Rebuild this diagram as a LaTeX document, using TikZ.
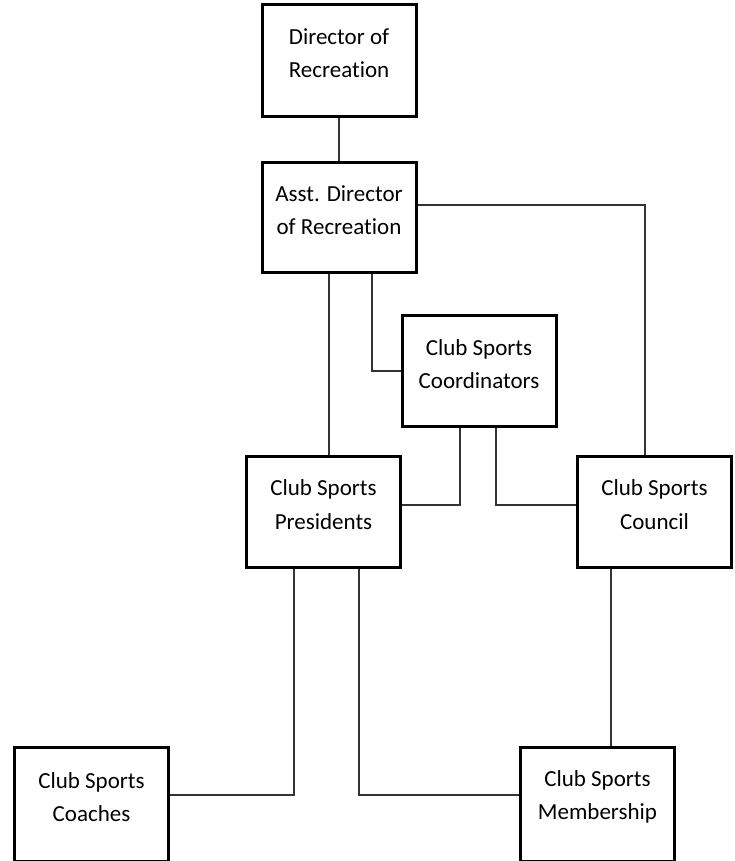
\documentclass[tikz,border=0pt]{standalone}
\usepackage{fontspec}
\setmainfont{Carlito}[Ligatures=NoCommon]
\begin{document}
\begin{tikzpicture}[x=1pt,y=-1pt,
  box/.style={draw=black,line width=3pt,fill=white,inner sep=0pt,minimum width=154pt,minimum height=111pt},
  lbl/.style={align=center,inner sep=0pt,font=\fontsize{23}{33.5}\selectfont,text=black},
  conn/.style={draw=black!80,line width=1.1pt}]
\useasboundingbox (0,0) rectangle (734,861);
\clip (0,0) rectangle (734,861);
% helper coordinates
\coordinate (y205) at (0,205);
\coordinate (y505) at (0,505);
\coordinate (y795) at (0,795);
\coordinate (x329) at (329,0);
\coordinate (x372) at (372,0);
\coordinate (x460) at (460,0);
\coordinate (x496) at (496,0);
\coordinate (x645) at (645,0);
\coordinate (x294) at (294,0);
\coordinate (x359) at (359,0);
\coordinate (x611) at (611,0);
% boxes
\node[box,minimum height=112pt] (dir) at (339,60.5) {};
\node[box,minimum height=110pt] (asst) at (339,217.5) {};
\node[box] (coord) at (479,371) {};
\node[box] (pres) at (323.5,512) {};
\node[box] (council) at (654.5,512) {};
\node[box,minimum height=114pt] (coach) at (91.5,804) {};
\node[box,minimum height=114pt] (memb) at (597.5,804) {};
% connectors
\draw[conn] (dir.south) -- (asst.north);
\draw[conn] (asst.east |- y205) -| (council.north -| x645);
\draw[conn] (asst.south -| x329) -- (pres.north -| x329);
\draw[conn] (asst.south -| x372) |- (coord.west);
\draw[conn] (coord.south -| x460) |- (pres.east |- y505);
\draw[conn] (coord.south -| x496) |- (council.west |- y505);
\draw[conn] (pres.south -| x294) |- (coach.east |- y795);
\draw[conn] (pres.south -| x359) |- (memb.west |- y795);
\draw[conn] (council.south -| x611) -- (memb.north -| x611);
% labels
\node[lbl] (tdir) at (339,53) {Director of\\Recreation};
\node[lbl] (tasst) at (339,210) {Asst. Director\\of Recreation};
\node[lbl] (tcoord) at (479,364) {Club Sports\\Coordinators};
\node[lbl] (tpres) at (323.5,504.5) {Club Sports\\Presidents};
\node[lbl] (tcouncil) at (654.5,504.5) {Club Sports\\Council};
\node[lbl] (tcoach) at (91.5,797) {Club Sports\\Coaches};
\node[lbl] (tmemb) at (597.5,797) {Club Sports\\Membership};
\end{tikzpicture}
\end{document}
